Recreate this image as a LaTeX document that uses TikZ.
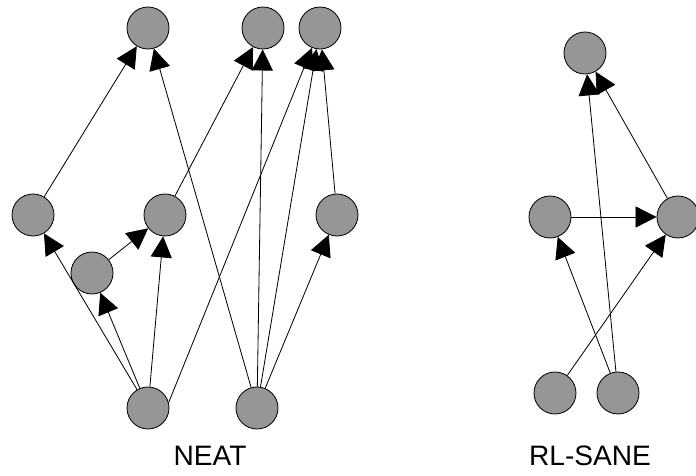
\documentclass[tikz,border=0pt]{standalone}
\usepackage{fontspec}
\setsansfont{Liberation Sans}
\usepackage{xcolor}
\usetikzlibrary{automata, arrows.meta}
\definecolor{unitgray}{RGB}{150,150,150}

\begin{document}
\begin{tikzpicture}[x=0.03cm, y=-0.03cm, font=\sffamily,
    unit/.style={state, fill=unitgray, draw=black, line width=0.7pt,
                 minimum size=1.26cm, inner sep=0pt},
    link/.style={-{Triangle[length=18pt, width=18pt]}, line width=0.7pt}]
    \useasboundingbox (0,0) rectangle (696,476);
    % NEAT network
        \node[unit] (t0) at (148,28) {};
        \node[unit] (t1) at (263,28) {};
        \node[unit] (t2) at (320,28) {};
        \node[unit] (h0) at (33,215) {};
        \node[unit] (h1) at (165,215) {};
        \node[unit] (h2) at (337,215) {};
        \node[unit] (h3) at (92,273) {};
        \node[unit] (b0) at (148,408) {};
        \node[unit] (b1) at (257,408) {};
        \node (neat) at (210,456) {\fontsize{24}{28}\selectfont NEAT};

    % RL-SANE network
        \node[unit] (s0) at (585,53) {};
        \node[unit] (m0) at (550,217) {};
        \node[unit] (m1) at (678,217) {};
        \node[unit] (i0) at (555,393) {};
        \node[unit] (i1) at (618,393) {};
        \node (sane) at (590,456) {\fontsize{24}{28}\selectfont RL-SANE};

       \draw[line width=0.7pt]
            (h0) edge[link] (t0)
            (b1) edge[link] (t0)
            (h1) edge[link] (t1)
            (b1) edge[link] (t1)
            (b0.15) edge[link] (t2)
            (b1) edge[link] (t2)
            (h2) edge[link] (t2)
            (h3) edge[link] (h1)
            (b0) edge[link] (h0)
            (b0) edge[link] (h3)
            (b0) edge[link] (h1)
            (b1) edge[link] (h2)

            (i1) edge[link] (s0)
            (m1) edge[link] (s0)
            (m0) edge[link] (m1)
            (i1) edge[link] (m0)
            (i0) edge[link] (m1)
            ;
\end{tikzpicture}
\end{document}
